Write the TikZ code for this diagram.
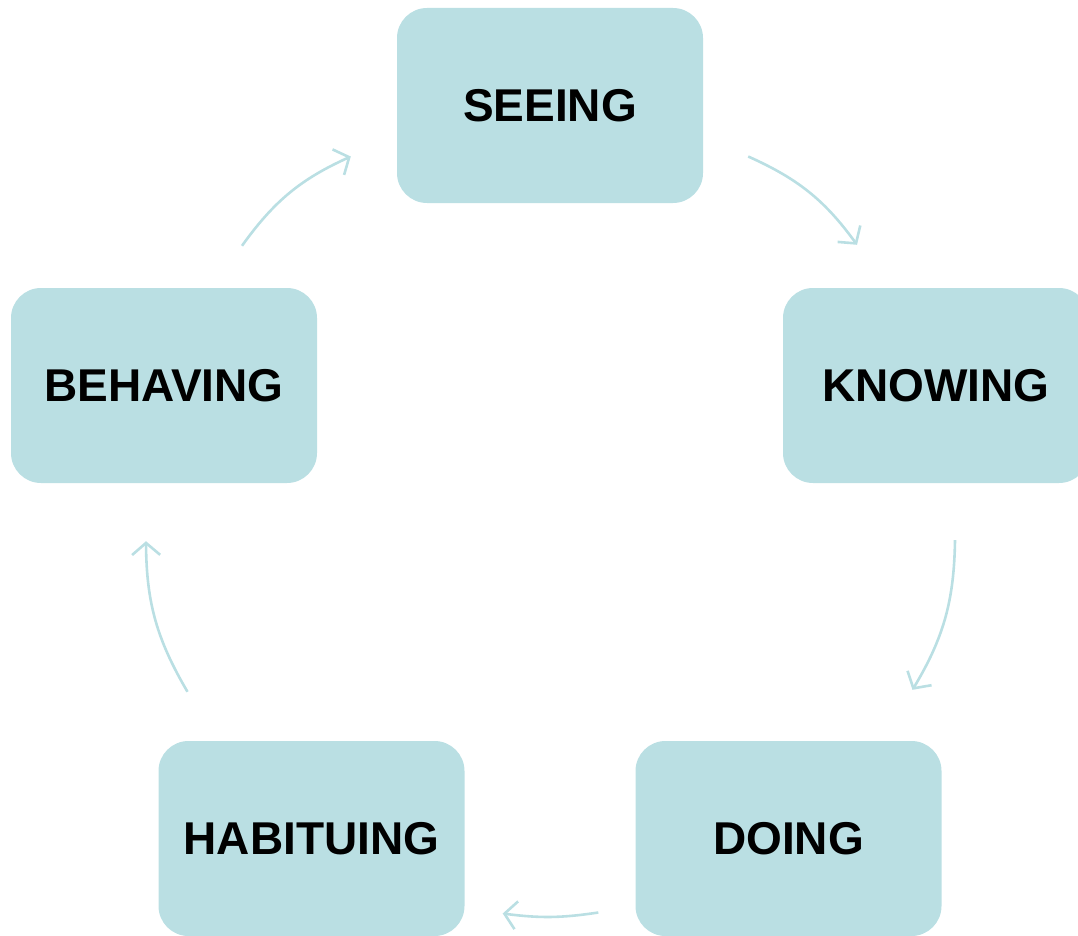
\documentclass[tikz,border=0pt]{standalone}
\usepackage{fontspec}
\setmainfont{Liberation Sans}
\usepackage{tikz}
\usetikzlibrary{arrows.meta}
\usetikzlibrary{positioning}

\definecolor{stagefill}{HTML}{BADFE3}

\tikzset{
    stage/.style={fill=stagefill,rounded corners=30pt,minimum width=306pt,minimum height=195pt,
        inner sep=0,font=\fontsize{46}{55}\selectfont\bfseries,text=black},
    cyc/.style={draw=stagefill,line width=2.6pt,-{Straight Barb[length=12pt,width=28pt,line width=2.6pt]}},
}

\begin{document}
\begin{tikzpicture}[x=1pt,y=-1pt]
    \useasboundingbox (0,0) rectangle (1078,936);

    \node(see)[stage] at (550,105.5) {SEEING};
    \node(know)[stage] at (936,385.5) {KNOWING};
    \node(do)[stage] at (788.5,838.5) {DOING};
    \node(hab)[stage] at (311.5,838.5) {HABITUING};
    \node(beh)[stage] at (164,385.5) {BEHAVING};

    \draw[cyc] ([xshift=45,yshift=-51]see.east) to[bend left=15] ([xshift=-79,yshift=43]know.north);
    \draw[cyc] ([xshift=19,yshift=-57]know.south) to[bend left=15] ([xshift=124,yshift=51]do.north);
    \draw[cyc] ([xshift=-37,yshift=-74]do.west) to[bend left=8] ([xshift=38,yshift=-75]hab.east);
    \draw[cyc] ([xshift=-124,yshift=49]hab.north) to[bend left=15] ([xshift=-18,yshift=-58]beh.south);
    \draw[cyc] ([xshift=78,yshift=42]beh.north) to[bend left=15] ([xshift=-46,yshift=-51]see.west);
\end{tikzpicture}
\end{document}
